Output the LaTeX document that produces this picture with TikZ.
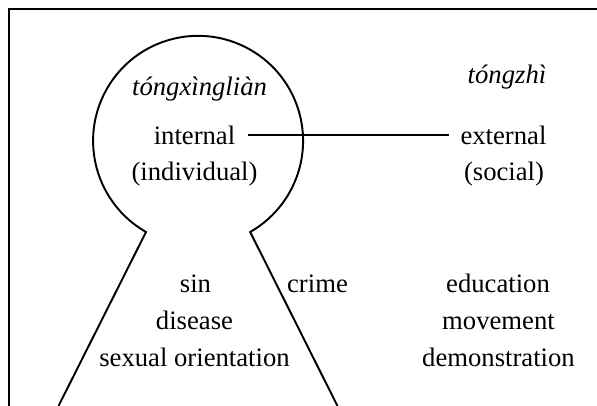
\documentclass[tikz,border=0pt]{standalone}
\usepackage{fontspec}
\setmainfont{Liberation Serif}
\usepackage{tikz}
\usetikzlibrary{positioning,calc}

\begin{document}
\begin{tikzpicture}[x=0.75pt,y=0.75pt,
		word/.style={font=\fontsize{20}{24}\selectfont,anchor=base,inner sep=0pt},
		pinyin/.style={word,font=\fontsize{20}{24}\selectfont\itshape}]
		
		\useasboundingbox (0,0) rectangle (597,406);
		\draw[line width=1.9pt] (597,397) -- (9,397) -- (9,0);
		
		\draw[line width=1.45pt] (58.5,0) -- (146,174) arc[start angle=240.26,end angle=-60.26,radius=105] -- (337.5,0);
		
		\node[pinyin] (T) at (199.5,310.5){tóngxìngliàn};
		\node[word] (I) at (194.5,261.5){internal};
		\node[word] (V) at (194.5,225){(individual)};
		
		\node[pinyin] (Z) at (507,322.5){tóngzhì};
		\node[word] (E) at (503.5,261.5){external};
		\node[word] (S) at (504,225.5){(social)};
		
		\node[word] (A) at (195.5,113){sin};
		\node[word] (B) at (194.5,76){disease};
		\node[word] (C) at (194.5,39){sexual orientation};
		
		\node[word] (K) at (317.5,113){crime};
		
		\node[word] (D) at (498,113){education};
		\node[word] (M) at (498.5,76){movement};
		\node[word] (R) at (498.5,39){demonstration};
		
		\draw [line width=1.45pt] ([xshift=9.75pt,yshift=0cm]I.east) -- ([xshift=-8.25pt,yshift=0cm]E.west);
		
		\end{tikzpicture}
\end{document}
